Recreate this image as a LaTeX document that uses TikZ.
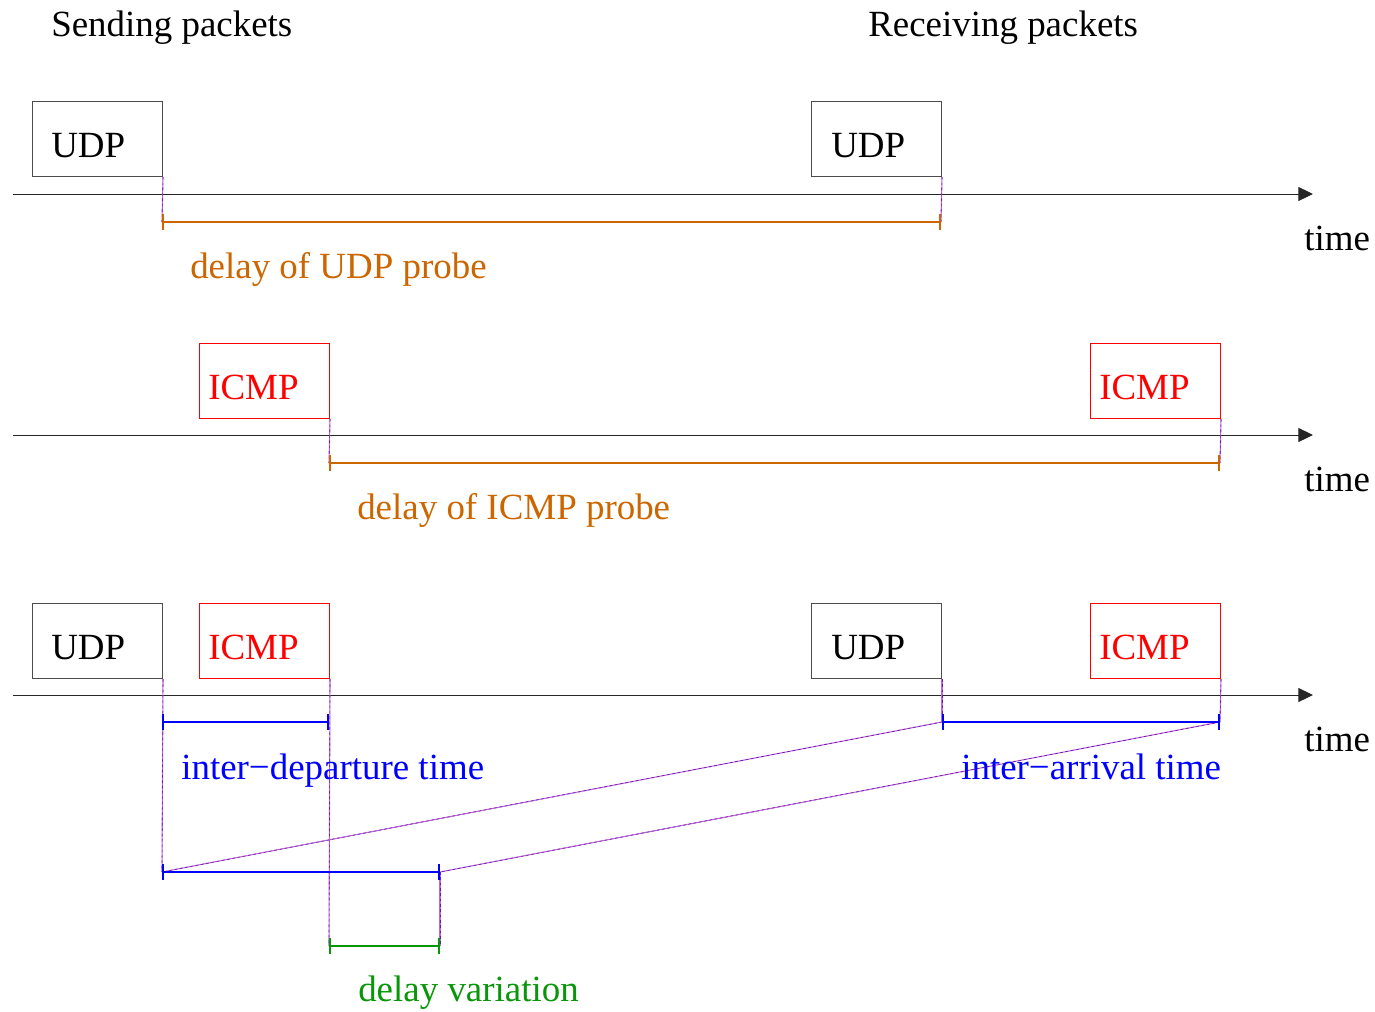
\documentclass[tikz,border=0pt]{standalone}
\usepackage{fontspec}
\setmainfont{Liberation Serif}
\usetikzlibrary{arrows.meta}
\definecolor{dorange}{RGB}{204,102,0}
\definecolor{dgreen}{RGB}{10,150,10}
\definecolor{pline}{RGB}{190,100,215}
\definecolor{pdash}{RGB}{100,30,170}
\begin{document}
\begin{tikzpicture}[x=0.75pt,y=-0.75pt,
  pbox/.style={draw=black!70, line width=0.75pt, minimum width=97.5pt, minimum height=56.25pt, inner sep=0pt, anchor=north west},
  rbox/.style={pbox, draw=red},
  lbl/.style={anchor=base west, inner sep=0pt, font=\fontsize{27.7}{32}\selectfont},
  axis/.style={draw=black!85, line width=0.75pt, -{Triangle[length=11pt,width=10.5pt]}},
  guide/.style={draw=pline, line width=0.8pt, postaction={draw=pdash, line width=0.5pt, dash pattern=on 2pt off 2pt}},
  bracket/.style={line width=1.4pt, {Bar[width=12pt]}-{Bar[width=12pt]}}]
\useasboundingbox (0,0) rectangle (1375,1011);

% headers
\node[lbl] (hs) at (51,36.5) {Sending packets};
\node[lbl] (hr) at (868,36.5) {Receiving packets};

% ---------- row 1 ----------
\node[pbox] (u1) at (32,101) {};
\node[lbl] (u1t) at (51,157) {UDP};
\node[pbox] (u2) at (811,101) {};
\node[lbl] (u2t) at (831,157) {UDP};
\coordinate (a1s) at (13,194);
\coordinate (a1e) at (1313,194);
\draw[axis] (a1s) -- (a1e);
\node[lbl] (t1) at (1304,250) {time};
\coordinate (b1l) at (162,222);
\coordinate (b1r) at (941,222);
\draw[guide] (u1.south east) -- (b1l);
\draw[guide] (u2.south east) -- (b1r);
\draw[bracket, dorange] (b1l) -- (b1r);
\node[lbl, text=dorange] (d1) at (190,278) {delay of UDP probe};

% ---------- row 2 ----------
\node[rbox] (i1) at (199,343) {};
\node[lbl, text=red] (i1t) at (208,399) {ICMP};
\node[rbox] (i2) at (1090,343) {};
\node[lbl, text=red] (i2t) at (1099,399) {ICMP};
\coordinate (a2s) at (13,435);
\coordinate (a2e) at (1313,435);
\draw[axis] (a2s) -- (a2e);
\node[lbl] (t2) at (1304,491) {time};
\coordinate (b2l) at (329,463);
\coordinate (b2r) at (1220,463);
\draw[guide] (i1.south east) -- (b2l);
\draw[guide] (i2.south east) -- (b2r);
\draw[bracket, dorange] (b2l) -- (b2r);
\node[lbl, text=dorange] (d2) at (357,519) {delay of ICMP probe};

% ---------- row 3 ----------
\node[pbox] (u3) at (32,603) {};
\node[lbl] (u3t) at (51,659) {UDP};
\node[rbox] (i3) at (199,603) {};
\node[lbl, text=red] (i3t) at (208,659) {ICMP};
\node[pbox] (u4) at (811,603) {};
\node[lbl] (u4t) at (831,659) {UDP};
\node[rbox] (i4) at (1090,603) {};
\node[lbl, text=red] (i4t) at (1099,659) {ICMP};
\coordinate (a3s) at (13,695);
\coordinate (a3e) at (1313,695);
\draw[axis] (a3s) -- (a3e);
\node[lbl] (t3) at (1304,751) {time};

\coordinate (idl) at (162,722);
\coordinate (idr) at (329,722);
\coordinate (ial) at (942,722);
\coordinate (iar) at (1220,722);
\coordinate (sl) at (162,872);
\coordinate (sr) at (440,872);
\coordinate (gl) at (329,946);
\coordinate (gr) at (440,946);

\draw[guide] (u3.south east) -- (sl);
\draw[guide] (i3.south east) -- (gl);
\draw[guide] (u4.south east) -- (ial);
\draw[guide] (i4.south east) -- (iar);
\draw[guide] (ial) -- (sl);
\draw[guide] (iar) -- (sr);
\draw[guide] (sr) -- (gr);

\draw[bracket, blue] (idl) -- (idr);
\draw[bracket, blue] (ial) -- (iar);
\draw[bracket, blue] (sl) -- (sr);
\draw[bracket, dgreen] (gl) -- (gr);

\node[lbl, text=blue] (ldt) at (181,779) {inter−departure time};
\node[lbl, text=blue] (lat) at (961,779) {inter−arrival time};
\node[lbl, text=dgreen] (ldv) at (358,1001.5) {delay variation};
\end{tikzpicture}
\end{document}
